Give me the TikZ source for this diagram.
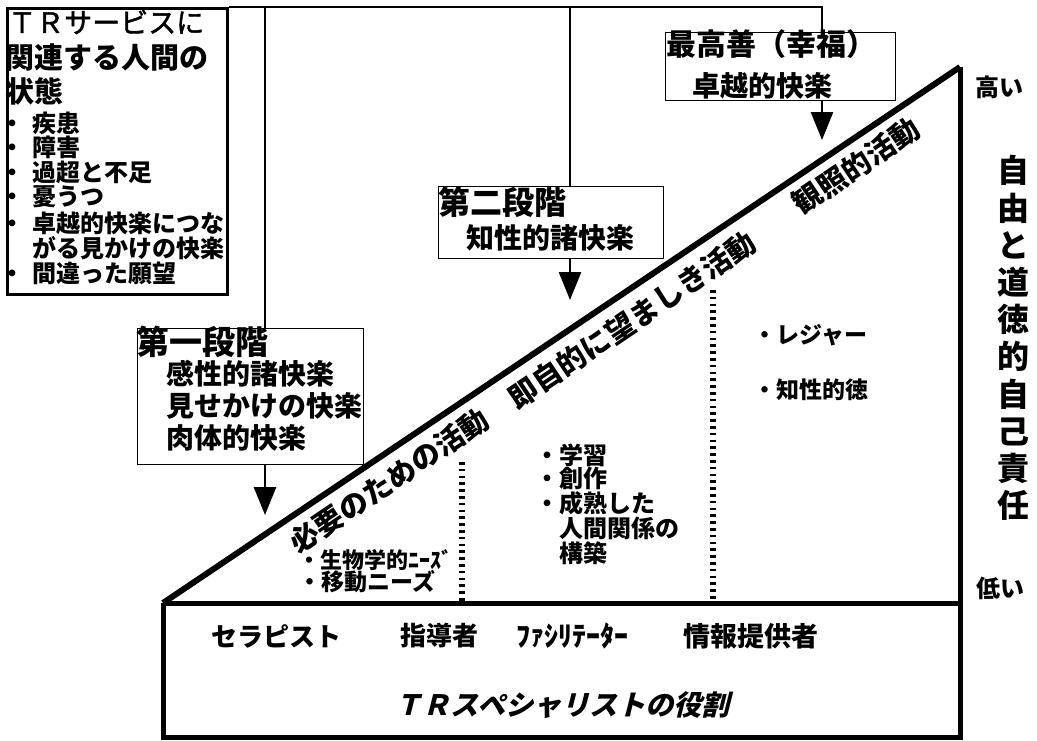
\documentclass[tikz,border=0pt]{standalone}
\usepackage{fontspec}
\newfontfamily\jp{Noto Sans CJK JP}
\newfontfamily\jpm{Noto Sans CJK JP}[FakeBold=1.6]
\newfontfamily\jpsl{Noto Sans CJK JP}[FakeSlant=0.25]
\usetikzlibrary{arrows.meta}
\newcommand\jpfs[1]{\fontsize{#1}{#1}\selectfont}
\begin{document}
\begin{tikzpicture}[x=1pt,y=-1pt,
  thickline/.style={line width=5pt,line join=miter},
  conn/.style={line width=2.8pt},
  arr/.style={line width=2.8pt,-{Triangle[length=28pt,width=22pt]}},
  sbox/.style={draw,line width=1.3pt,inner sep=0pt,anchor=north west},
  dashv/.style={line width=6pt,dash pattern=on 2.6pt off 4.2pt},
  tx/.style={inner sep=0pt,anchor=west,font=\jp\bfseries\jpfs{#1}},
  tr/.style={inner sep=0pt,anchor=west,font=\jpm\jpfs{#1}},
  tc/.style={inner sep=0pt,anchor=center,font=\jp\bfseries\jpfs{#1}},
  dg/.style={inner sep=0pt,anchor=center,rotate=33.96,font=\jp\bfseries\jpfs{29}}]
\useasboundingbox (0,0) rectangle (1037,740);
\fill[white] (0,0) rectangle (1037,740);

% main frame: triangle + role box
\coordinate (bl) at (163,603);
\coordinate (ap) at (960,67);
\coordinate (br) at (960,603);
\coordinate (bb) at (960,737);
\coordinate (lb) at (163,737);
\draw[thickline,line width=6pt] (bl) -- (ap);
\draw[thickline] (ap) -- (bb) -- (lb) -- (bl);
\draw[thickline] (bl) -- (br);

% boxes
\node[draw,line width=2.8pt,inner sep=0pt,anchor=north west,minimum width=220pt,minimum height=286pt] (lbox) at (6,7) {};
\node[sbox,minimum width=226pt,minimum height=136pt] (s1) at (137,328) {};
\node[sbox,minimum width=225pt,minimum height=72pt] (s2) at (438,186) {};
\node[sbox,minimum width=230pt,minimum height=68pt] (s3) at (665,32) {};

% connectors
\coordinate (j0) at (822,7);
\coordinate (j1) at (265,7);
\coordinate (j2) at (570,7);
\draw[conn] (lbox.north east) -- (j0) -- (s3.north -| j0);
\draw[conn] (j1) -- (j1 |- s1.north);
\draw[conn] (j2) -- (j2 |- s2.north);
\coordinate (a1) at (265,515);
\coordinate (a2) at (570,300);
\coordinate (a3) at (822,140);
\draw[arr] (s1.south -| a1) -- (a1);
\draw[arr] (s2.south -| a2) -- (a2);
\draw[arr] (s3.south -| a3) -- (a3);

% dashed dividers
\coordinate (d1t) at (462,462);
\coordinate (d2t) at (713,290);
\draw[dashv] (d1t) -- (d1t |- bl);
\draw[dashv] (d2t) -- (d2t |- bl);

% left box text
\node[tr=28] (h1) at (8,22) {ＴＲサービスに};
\node[tx=29] (h2) at (5,57) {関連する人間の};
\node[tx=29] (h3) at (5,91) {状態};
\node[tx=24] (b1) at (0,123) {・\hspace{8pt}疾患};
\node[tx=24] (b2) at (0,147) {・\hspace{8pt}障害};
\node[tx=24] (b3) at (0,172) {・\hspace{8pt}過超と不足};
\node[tx=24] (b4) at (0,197) {・\hspace{8pt}憂うつ};
\node[tx=24] (b5) at (0,223) {・\hspace{8pt}卓越的快楽につな};
\node[tx=24] (b6) at (32,248) {がる見かけの快楽};
\node[tx=24] (b7) at (0,273) {・\hspace{8pt}間違った願望};

% stage texts
\node[tx=33] (s1h) at (136,342) {第一段階};
\node[tx=28] (s1a) at (166,374) {感性的諸快楽};
\node[tx=28] (s1b) at (166,406) {見せかけの快楽};
\node[tx=28] (s1c) at (166,438) {肉体的快楽};
\node[tx=32] (s2h) at (438,202) {第二段階};
\node[tx=28] (s2a) at (466,238) {知性的諸快楽};
\node[tx=30] (s3h) at (666,44) {最高善（幸福）};
\node[tx=28] (s3a) at (692,86) {卓越的快楽};

% diagonal labels
\node[dg] (g1) at (389,481) {必要のための活動};
\node[dg] (g2) at (632,320) {即自的に望ましき活動};
\node[dg] (g3) at (856,166) {観照的活動};

% activity lists
\node[tx=22] (m1) at (298,560) {・生物学的ﾆｰｽﾞ};
\node[tx=23] (m2) at (298,582) {・移動ニーズ};
\node[tx=24] (n1) at (535,455) {・学習};
\node[tx=24] (n2) at (535,478) {・創作};
\node[tx=24] (n3) at (535,503) {・成熟した};
\node[tx=24] (n4) at (559,528) {人間関係の};
\node[tx=24] (n5) at (559,553) {構築};
\node[tx=23] (r1) at (753,335) {・レジャー};
\node[tx=23] (r2) at (753,390) {・知性的徳};

% right scale
\node[tc=24] (hi) at (999,87) {高い};
\node[tc=24] (lo) at (1000,588) {低い};
\node[inner sep=0pt,align=center,font=\jp\bfseries\fontsize{32}{37.2}\selectfont] (vt) at (1013,338)
  {自\\由\\と\\道\\徳\\的\\自\\己\\責\\任};

% role box
\node[tc=26] (r_a) at (276,636) {セラピスト};
\node[tc=26] (r_b) at (439,636) {指導者};
\node[tc=28] (r_c) at (572,636) {ﾌｧｼﾘﾃｰﾀｰ};
\node[tc=27] (r_d) at (751,636) {情報提供者};
\node[inner sep=0pt,font=\jpsl\bfseries\jpfs{28}] (role) at (562,705) {ＴＲスペシャリストの役割};
\end{tikzpicture}
\end{document}
